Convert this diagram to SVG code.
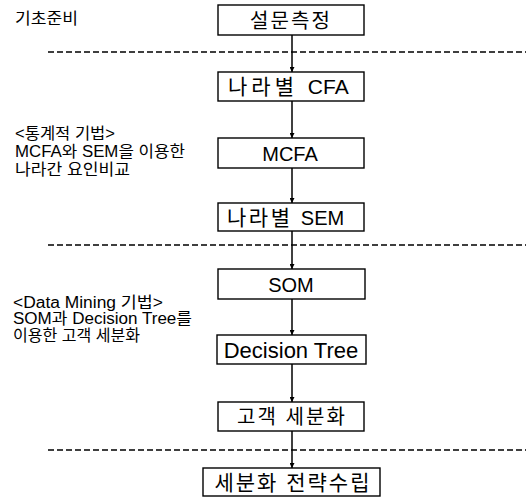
<svg xmlns="http://www.w3.org/2000/svg" width="526" height="498" viewBox="0 0 526 498">
<style>
  .box { fill: #fff; stroke: #000; stroke-width: 1.4; }
  .lbl { font-family: "Liberation Sans", "Noto Sans CJK KR", Arial, sans-serif; font-size: 20px; fill: #000; text-anchor: middle; }
  .lbs { font-family: "Liberation Sans", "Noto Sans CJK KR", Arial, sans-serif; font-size: 20px; fill: #000; }
  .side { font-family: "Liberation Sans", "Noto Sans CJK KR", Arial, sans-serif; font-size: 16px; fill: #000; }
  .dash { stroke: #000; stroke-width: 1.5; stroke-dasharray: 6 3; fill: none; }
  .conn { stroke: #000; stroke-width: 1.5; fill: none; marker-end: url(#ah); }
</style>
<defs>
  <marker id="ah" viewBox="0 0 10 10" refX="10" refY="5" markerWidth="5" markerHeight="5" markerUnits="userSpaceOnUse" orient="auto">
    <path d="M0,0 L10,5 L0,10 z" fill="#000"/>
  </marker>
</defs>
<rect width="526" height="498" fill="#fff"/>

<g id="separators">
  <line class="dash" x1="48" y1="52" x2="526" y2="52"/>
  <line class="dash" x1="48" y1="245" x2="526" y2="245"/>
  <line class="dash" x1="48" y1="450" x2="526" y2="450"/>
</g>

<g id="side-labels">
  <text class="side" x="15" y="24" textLength="63" lengthAdjust="spacingAndGlyphs">기초준비</text>
  <text class="side" x="15" y="139" textLength="100" lengthAdjust="spacingAndGlyphs">&lt;통계적 기법&gt;</text>
  <text class="side" x="15" y="157" textLength="170" lengthAdjust="spacingAndGlyphs">MCFA와 SEM을 이용한</text>
  <text class="side" x="15" y="175" textLength="115" lengthAdjust="spacingAndGlyphs">나라간 요인비교</text>
  <text class="side" x="13" y="308" textLength="150" lengthAdjust="spacingAndGlyphs">&lt;Data Mining 기법&gt;</text>
  <text class="side" x="13" y="324" textLength="179" lengthAdjust="spacingAndGlyphs">SOM과 Decision Tree를</text>
  <text class="side" x="13" y="341" textLength="127" lengthAdjust="spacingAndGlyphs">이용한 고객 세분화</text>
</g>

<g id="connectors">
  <line class="conn" x1="292" y1="35" x2="292" y2="72"/>
  <line class="conn" x1="292" y1="101" x2="292" y2="138"/>
  <line class="conn" x1="292" y1="168" x2="292" y2="203"/>
  <line class="conn" x1="292" y1="231" x2="292" y2="269"/>
  <line class="conn" x1="292" y1="299" x2="292" y2="335"/>
  <line class="conn" x1="292" y1="364" x2="292" y2="402"/>
  <line class="conn" x1="292" y1="431" x2="292" y2="468"/>
</g>

<g id="n1"><rect class="box" x="218" y="5" width="146" height="30"/><text class="lbl" x="290" y="28" textLength="80">설문측정</text></g>
<g id="n2"><rect class="box" x="218" y="72" width="146" height="29"/><text class="lbs" x="228" y="94" style="font-size:21px"><tspan style="letter-spacing:4px">나라별 </tspan>CFA</text></g>
<g id="n3"><rect class="box" x="218" y="138" width="146" height="30"/><text class="lbl" x="290" y="161">MCFA</text></g>
<g id="n4"><rect class="box" x="218" y="203" width="146" height="28"/><text class="lbs" x="227" y="225" style="font-size:21px"><tspan style="letter-spacing:2.5px">나라별 </tspan><tspan style="font-size:20px">SEM</tspan></text></g>
<g id="n5"><rect class="box" x="218" y="269" width="147" height="30"/><text class="lbl" x="291" y="292">SOM</text></g>
<g id="n6"><rect class="box" x="217" y="335" width="149" height="29"/><text class="lbl" x="291" y="358" style="font-size:22px">Decision Tree</text></g>
<g id="n7"><rect class="box" x="218" y="402" width="146" height="29"/><text class="lbl" x="291" y="424" textLength="108">고객 세분화</text></g>
<g id="n8"><rect class="box" x="203" y="468" width="177" height="28"/><text class="lbl" x="292" y="490" style="font-size:21px" textLength="155">세분화 전략수립</text></g>
</svg>
